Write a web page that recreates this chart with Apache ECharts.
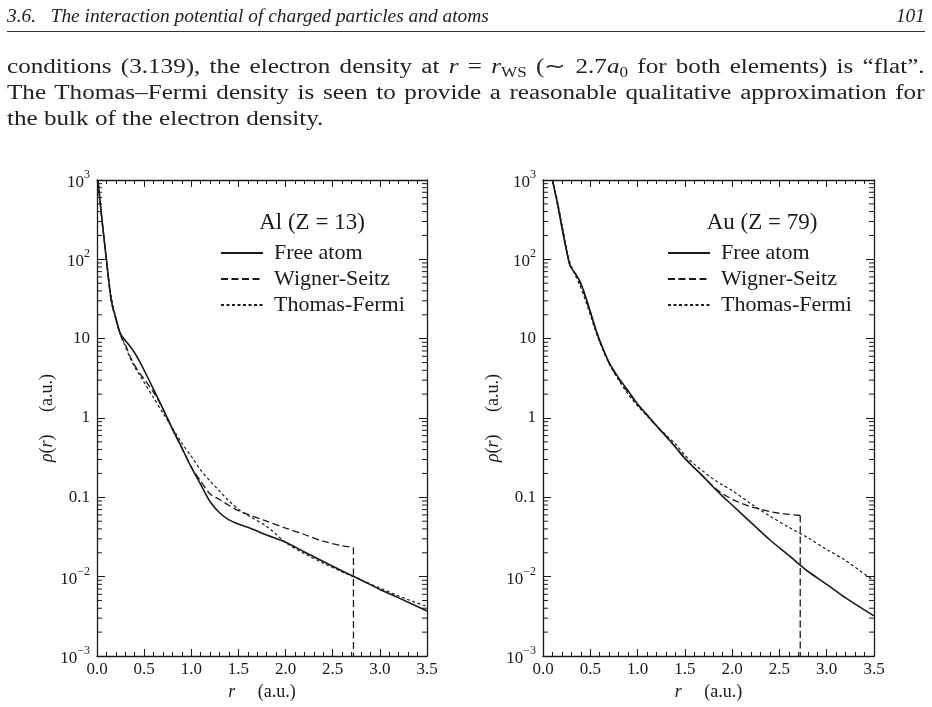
<!DOCTYPE html>
<html>
<head>
<meta charset="utf-8">
<script src="https://cdn.jsdelivr.net/npm/echarts@6/dist/echarts.min.js"></script>
<style>
  html, body { margin: 0; padding: 0; background: #fff; }
  #page { position: relative; width: 932px; height: 707px; overflow: hidden; }
  #chart { position: absolute; left: 0; top: 0; width: 932px; height: 707px; }
  .txt { position: absolute; left: 7px; font-family: "Liberation Serif", serif;
         color: #222; white-space: nowrap; z-index: 2; }
  .hdr { width: 918px; font-size: 19.4px; line-height: 26px; font-style: italic; }
  .body { font-size: 20.5px; line-height: 26px; width: 749px; transform: scaleX(1.225); transform-origin: 0 0; }
  .just { text-align: justify; text-align-last: justify; }
  .rule { position: absolute; left: 7px; width: 918px; top: 31px; height: 0; border-top: 1px solid #333; }
  sub { font-size: 14px; vertical-align: -4px; line-height: 0; }
</style>
</head>
<body>
<div id="page">
  <div id="chart"></div>
  <div class="txt hdr" style="top:3px;">3.6.&nbsp;&nbsp; The interaction potential of charged particles and atoms<span style="position:absolute; right:0;">101</span></div>
  <div class="rule"></div>
  <div class="txt body just" style="top:53px;">conditions (3.139), the electron density at <i>r</i> = <i>r</i><sub>WS</sub> (∼ 2.7<i>a</i><sub>0</sub> for both elements) is “flat”.</div>
  <div class="txt body just" style="top:79px;">The Thomas–Fermi density is seen to provide a reasonable qualitative approximation for</div>
  <div class="txt body" style="top:105px;">the bulk of the electron density.</div>
</div>
<script>
// ---- data (r in a.u., rho in a.u.) ----
const alR = [0.01, 0.05, 0.1, 0.15, 0.2, 0.25, 0.3, 0.35, 0.4, 0.45, 0.5, 0.6, 0.7, 0.8, 0.9, 1.0, 1.1, 1.2, 1.3, 1.4, 1.5, 1.6, 1.8, 2.0, 2.2, 2.4, 2.6, 2.8, 3.0, 3.2, 3.5];
const alFree = [1000, 340, 100, 31, 18, 11.5, 9.5, 8.0, 6.6, 5.2, 4.0, 2.3, 1.3, 0.73, 0.42, 0.24, 0.145, 0.088, 0.064, 0.052, 0.046, 0.042, 0.0335, 0.0272, 0.0205, 0.0155, 0.0118, 0.0091, 0.0069, 0.0054, 0.0037];
const alTF = [1000, 330, 95, 35, 18, 11, 8.0, 5.8, 4.4, 3.5, 2.8, 1.8, 1.15, 0.75, 0.48, 0.33, 0.22, 0.16, 0.12, 0.09, 0.071, 0.059, 0.043, 0.027, 0.0195, 0.0148, 0.0115, 0.0091, 0.0072, 0.0057, 0.0042];
const alWsR = [0.01, 0.05, 0.1, 0.15, 0.2, 0.25, 0.3, 0.35, 0.4, 0.45, 0.5, 0.6, 0.7, 0.8, 0.9, 1.0, 1.1, 1.2, 1.3, 1.4, 1.5, 1.6, 1.8, 2.0, 2.2, 2.4, 2.6, 2.72];
const alWS = [1000, 340, 99, 30, 17.5, 11, 8.5, 6.0, 4.6, 3.7, 3.1, 2.1, 1.3, 0.72, 0.42, 0.24, 0.16, 0.11, 0.094, 0.079, 0.068, 0.061, 0.050, 0.041, 0.034, 0.028, 0.0245, 0.0234];
// Wigner-Seitz density drops to zero at the cell edge r_WS
const alWsEdge = [[2.72, 0.0234], [2.72, 0.001]];

const auR = [0.1, 0.15, 0.2, 0.25, 0.28, 0.3, 0.35, 0.4, 0.45, 0.5, 0.55, 0.6, 0.7, 0.8, 0.9, 1.0, 1.1, 1.2, 1.3, 1.4, 1.5, 1.6, 1.7, 1.8, 1.9, 2.0, 2.2, 2.4, 2.6, 2.8, 3.0, 3.2, 3.5];
const auFree = [1000, 520, 250, 125, 88, 78, 64, 50, 34, 22, 14, 9.5, 5.0, 3.2, 2.2, 1.5, 1.1, 0.80, 0.59, 0.43, 0.31, 0.235, 0.18, 0.135, 0.103, 0.080, 0.048, 0.029, 0.0185, 0.0117, 0.0080, 0.0054, 0.0032];
const auTF = [1000, 560, 280, 135, 95, 82, 60, 44, 30, 20, 13, 9.0, 4.8, 3.0, 2.0, 1.42, 1.06, 0.80, 0.61, 0.47, 0.34, 0.26, 0.21, 0.17, 0.143, 0.122, 0.083, 0.058, 0.042, 0.031, 0.022, 0.016, 0.0088];
const auWsR = [0.1, 0.15, 0.2, 0.25, 0.28, 0.3, 0.35, 0.4, 0.45, 0.5, 0.55, 0.6, 0.7, 0.8, 0.9, 1.0, 1.1, 1.2, 1.3, 1.4, 1.5, 1.6, 1.7, 1.8, 1.9, 2.0, 2.1, 2.2, 2.3, 2.4, 2.5, 2.6, 2.72];
const auWS = [1000, 530, 260, 128, 88, 78, 63, 48, 33, 21.5, 14, 9.3, 4.9, 3.1, 2.1, 1.48, 1.08, 0.79, 0.59, 0.43, 0.31, 0.235, 0.18, 0.137, 0.111, 0.095, 0.084, 0.076, 0.071, 0.066, 0.063, 0.061, 0.059];
const auWsEdge = [[2.72, 0.059], [2.72, 0.001]];

const seriesNames = ['Free atom', 'Wigner-Seitz', 'Thomas-Fermi'];
const panelTitles = ['Al (Z = 13)', 'Au (Z = 79)'];
// y tick labels, from 10^-3 to 10^3
const yTickText = ['{b|10}{s|−3}', '{b|10}{s|−2}', '0.1', '1', '10', '{b|10}{s|2}', '{b|10}{s|3}'];
const logDecades = [0.001, 0.01, 0.1, 1, 10, 100];
const logMinorMultiples = [2, 3, 4, 5, 6, 7, 8, 9];

const FONT = 'Liberation Serif';
const INK = '#1a1a1a';
const rMin = 0, rMax = 3.5;

const zip = (xs, ys) => xs.map((x, i) => [x, ys[i]]);
const minorTicks = [];
logDecades.forEach(d => logMinorMultiples.forEach(m => minorTicks.push([0, d * m])));

const grids = [
  { left: 97, right: 505, top: 180, bottom: 51 },
  { left: 543, right: 58, top: 180, bottom: 51 }
];

function xAxes(gi) {
  const base = {
    type: 'value', gridIndex: gi, min: rMin, max: rMax, interval: 0.5,
    axisLine: { show: true, onZero: false, lineStyle: { color: INK, width: 1.3 } },
    axisTick: { inside: true, length: 7, lineStyle: { color: INK, width: 1 } },
    minorTick: { show: true, splitNumber: 5, length: 4, lineStyle: { color: INK, width: 1 } },
    splitLine: { show: false }
  };
  return [
    Object.assign({}, base, {
      position: 'bottom',
      axisLabel: { fontFamily: FONT, fontSize: 17, color: INK, margin: 5, formatter: v => v.toFixed(1) },
      name: '{i|r}     (a.u.)', nameLocation: 'middle', nameGap: 22,
      nameTextStyle: { fontFamily: FONT, fontSize: 18, color: INK,
        rich: { i: { fontFamily: FONT, fontSize: 18, fontStyle: 'italic', color: INK } } }
    }),
    Object.assign({}, base, { position: 'top', axisLabel: { show: false } })
  ];
}

function yAxes(gi) {
  const base = {
    type: 'log', logBase: 10, gridIndex: gi, min: 0.001, max: 1000, splitNumber: 6,
    axisLine: { show: true, onZero: false, lineStyle: { color: INK, width: 1.3 } },
    axisTick: { inside: true, length: 8, lineStyle: { color: INK, width: 1 } },
    splitLine: { show: false }
  };
  return [
    Object.assign({}, base, {
      position: 'left',
      axisLabel: {
        fontFamily: FONT, fontSize: 17, color: INK, margin: 7,
        formatter: v => yTickText[Math.round(Math.log10(v)) + 3],
        rich: {
          b: { fontFamily: FONT, fontSize: 17, color: INK, lineHeight: 22, verticalAlign: 'bottom' },
          s: { fontFamily: FONT, fontSize: 12, color: INK, lineHeight: 12, verticalAlign: 'top' }
        }
      },
      name: '{i|ρ}({i|r})     (a.u.)', nameLocation: 'middle', nameGap: 40,
      nameTextStyle: { fontFamily: FONT, fontSize: 18, color: INK,
        rich: { i: { fontFamily: FONT, fontSize: 18, fontStyle: 'italic', color: INK } } }
    }),
    Object.assign({}, base, { position: 'right', axisLabel: { show: false } })
  ];
}

function lineSeries(name, data, xi, yi, dash, width, smooth) {
  return {
    name, type: 'line', data, xAxisIndex: xi, yAxisIndex: yi,
    symbol: 'none', smooth: smooth, silent: true, z: 3,
    itemStyle: { color: INK },
    lineStyle: { color: INK, width, type: dash }
  };
}

function minorTickSeries(xi, yi) {
  return {
    type: 'custom', xAxisIndex: xi, yAxisIndex: yi, silent: true, clip: false, z: 4,
    data: minorTicks,
    renderItem: (params, api) => {
      const v = api.value(1);
      const a = api.coord([rMin, v]);
      const b = api.coord([rMax, v]);
      return {
        type: 'group', children: [
          { type: 'line', shape: { x1: a[0], y1: a[1], x2: a[0] + 5, y2: a[1] }, style: { stroke: INK, lineWidth: 1 } },
          { type: 'line', shape: { x1: b[0] - 5, y1: b[1], x2: b[0], y2: b[1] }, style: { stroke: INK, lineWidth: 1 } }
        ]
      };
    }
  };
}

function legendAt(left) {
  return {
    data: seriesNames, orient: 'vertical', left, top: 237, selectedMode: false,
    itemWidth: 42, itemHeight: 14, itemGap: 4,
    itemStyle: { opacity: 0 },
    textStyle: { fontFamily: FONT, fontSize: 22, color: INK, lineHeight: 22, padding: [0, 0, 0, 6] }
  };
}

const WS_DASH = [7, 3.5], TF_DASH = [3, 2.5];

const chart = echarts.init(document.getElementById('chart'));
chart.setOption({
  animation: false,
  backgroundColor: 'transparent',
  grid: grids,
  xAxis: [...xAxes(0), ...xAxes(1)],
  yAxis: [...yAxes(0), ...yAxes(1)],
  legend: [legendAt(215), legendAt(662)],
  graphic: [
    { type: 'text', x: 312, y: 223, style: { text: panelTitles[0], font: '23px "Liberation Serif"', fill: INK, align: 'center', verticalAlign: 'middle' } },
    { type: 'text', x: 762, y: 223, style: { text: panelTitles[1], font: '23px "Liberation Serif"', fill: INK, align: 'center', verticalAlign: 'middle' } }
  ],
  series: [
    lineSeries(seriesNames[0], zip(alR, alFree), 0, 0, 'solid', 1.6, 0.3),
    lineSeries(seriesNames[1], zip(alWsR, alWS), 0, 0, WS_DASH, 1.3, 0.3),
    lineSeries(seriesNames[1], alWsEdge, 0, 0, WS_DASH, 1.3, false),
    lineSeries(seriesNames[2], zip(alR, alTF), 0, 0, TF_DASH, 1.2, 0.3),
    lineSeries(seriesNames[0], zip(auR, auFree), 2, 2, 'solid', 1.6, 0.3),
    lineSeries(seriesNames[1], zip(auWsR, auWS), 2, 2, WS_DASH, 1.3, 0.3),
    lineSeries(seriesNames[1], auWsEdge, 2, 2, WS_DASH, 1.3, false),
    lineSeries(seriesNames[2], zip(auR, auTF), 2, 2, TF_DASH, 1.2, 0.3),
    minorTickSeries(0, 0),
    minorTickSeries(2, 2)
  ]
});
</script>
</body>
</html>
